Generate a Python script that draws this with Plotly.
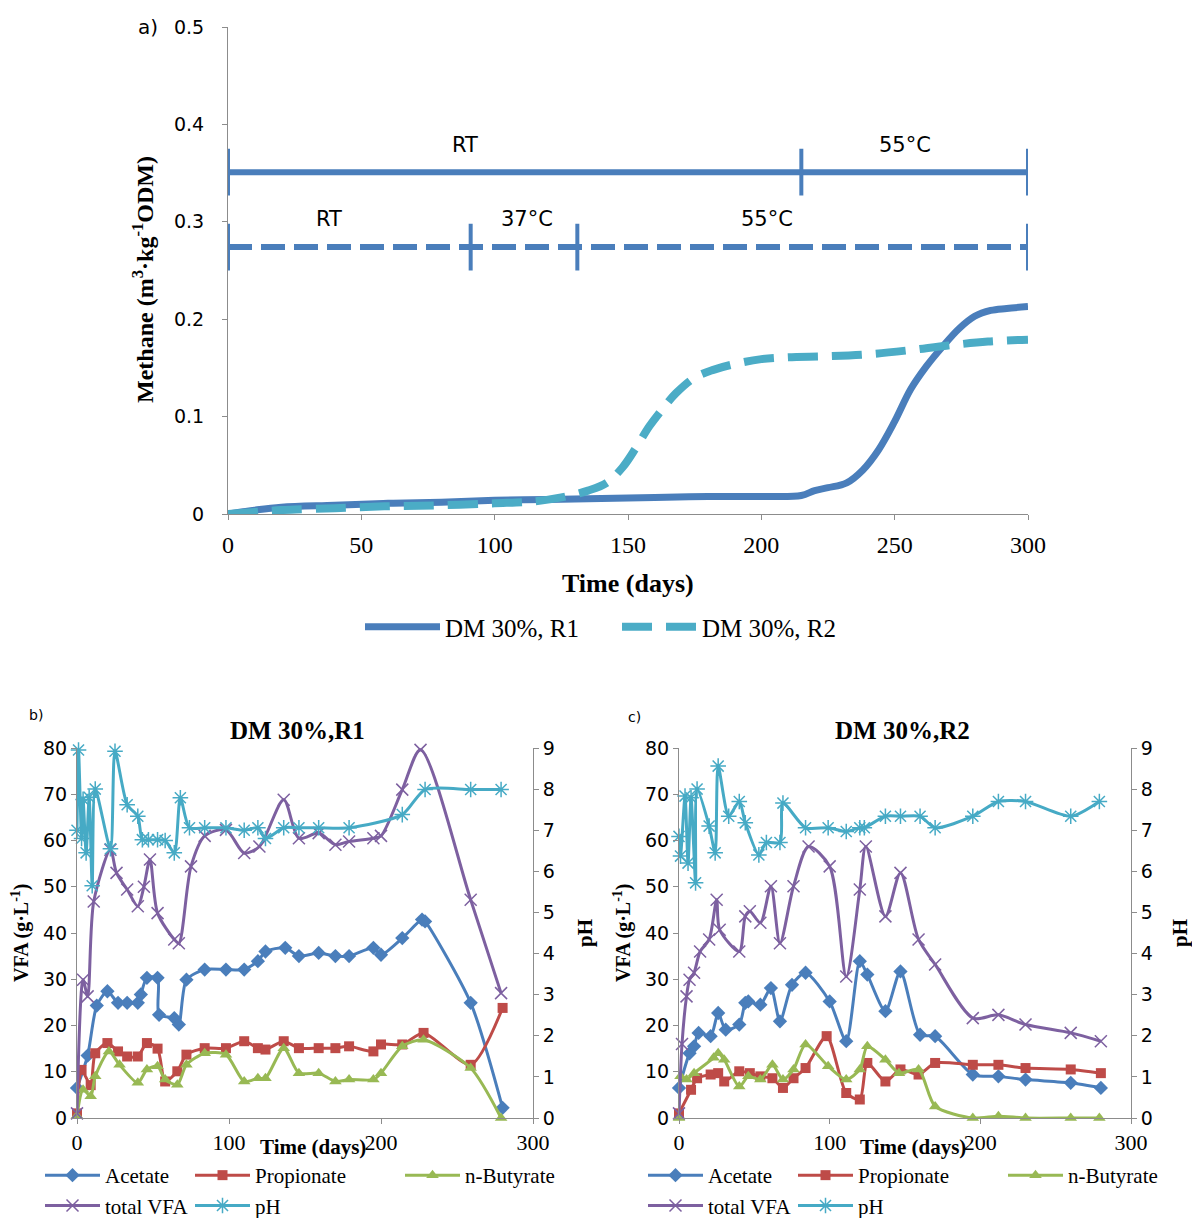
import plotly.graph_objects as go

W, H = 1192, 1218

# ---------------- (a) cumulative methane yield ----------------
r1_days = [0, 5, 10, 20, 40, 60, 80, 100, 120, 140, 160, 180, 200, 215, 220, 225, 232,
           238, 244, 250, 256, 262, 268, 274, 280, 286, 292, 300]
r1_methane = [0, 0.002, 0.004, 0.007, 0.009, 0.011, 0.012, 0.014, 0.015, 0.016, 0.017, 0.018,
              0.018, 0.019, 0.024, 0.027, 0.032, 0.045, 0.066, 0.095, 0.128, 0.152, 0.172,
              0.19, 0.203, 0.209, 0.211, 0.213]

r2_days = [0, 10, 20, 40, 60, 80, 100, 115, 125, 135, 142, 148, 153, 158, 163, 168, 175,
           182, 190, 200, 210, 225, 240, 255, 270, 285, 300]
r2_methane = [0, 0.002, 0.004, 0.006, 0.008, 0.009, 0.011, 0.013, 0.017, 0.024, 0.032, 0.048,
              0.068, 0.09, 0.108, 0.124, 0.14, 0.148, 0.154, 0.159, 0.161, 0.162, 0.164,
              0.168, 0.173, 0.177, 0.179]

# temperature regimes (phase boundaries in days)
r1_phase_days = [0, 215, 300]
r1_phase_labels = ["RT", "55°C"]
r2_phase_days = [0, 91, 131, 300]
r2_phase_labels = ["RT", "37°C", "55°C"]
r1_phase_level = 0.351
r2_phase_level = 0.274

# ---------------- (b) DM 30%, R1 ----------------
b_acetate_days = [0, 7, 13, 20, 27, 33, 40, 42, 46, 53, 54, 64, 67, 72, 84, 98, 110, 119, 124,
                  137, 146, 159, 170, 179, 195, 200, 214, 227, 229, 259, 280]
b_acetate = [6.5, 13.5, 24.3, 27.4, 24.9, 24.9, 24.9, 26.7, 30.3, 30.3, 22.3, 21.6, 20.2, 29.9,
             32.1, 32.1, 32.1, 33.9, 36.0, 36.8, 35.0, 35.7, 35.0, 35.0, 36.8, 35.3, 38.9,
             42.9, 42.5, 24.9, 2.2]

b_propionate_days = [0, 3, 9, 12, 20, 27, 33, 40, 46, 53, 58, 66, 72, 84, 98, 110, 119, 124,
                     136, 146, 159, 170, 179, 195, 200, 214, 228, 259, 280]
b_propionate = [1.0, 10.4, 7.1, 14.0, 16.2, 14.4, 13.3, 13.3, 16.2, 15.0, 7.9, 10.1, 13.7,
                15.1, 15.1, 16.6, 15.1, 14.8, 16.6, 15.1, 15.1, 15.1, 15.5, 14.4, 15.9, 15.9,
                18.4, 11.5, 23.8]

b_butyrate_days = [0, 4, 9, 12, 21, 28, 40, 46, 53, 58, 66, 72, 84, 98, 110, 119, 124, 136,
                   146, 159, 170, 179, 195, 200, 214, 228, 259, 279]
b_butyrate = [0.5, 6.1, 4.7, 9.0, 14.4, 11.5, 7.6, 10.5, 11.2, 8.3, 7.2, 11.5, 14.0, 13.7,
              7.9, 8.6, 8.6, 15.1, 9.7, 9.7, 7.9, 8.3, 8.3, 9.7, 15.5, 16.9, 10.8, 0.0]

b_total_days = [0, 4, 7, 11, 22, 26, 33, 40, 44, 48, 53, 64, 67, 75, 84, 98, 110, 120, 136,
                146, 159, 170, 179, 195, 200, 214, 226, 259, 279]
b_total = [1.0, 29.9, 26.3, 46.8, 58.0, 53.0, 49.4, 45.8, 50.0, 55.9, 44.3, 38.6, 37.8, 54.4,
           61.0, 62.3, 57.3, 58.7, 68.8, 60.5, 61.6, 59.1, 59.8, 60.5, 61.0, 71.0, 79.6, 47.2,
           27.0]

b_ph_days = [0, 1, 3, 4, 6, 8, 10, 12, 22, 25, 33, 40, 43, 47, 53, 58, 64, 68, 74, 84, 98,
             110, 119, 124, 136, 146, 159, 179, 214, 229, 259, 279]
b_ph = [7.0, 8.95, 6.8, 7.75, 6.45, 7.8, 5.65, 8.0, 6.55, 8.92, 7.62, 7.34, 6.77, 6.77, 6.77,
        6.75, 6.45, 7.79, 7.06, 7.06, 7.06, 7.0, 7.06, 6.8, 7.06, 7.06, 7.06, 7.06, 7.38,
        7.99, 7.99, 7.99]

# ---------------- (c) DM 30%, R2 ----------------
c_acetate_days = [0, 7, 10, 13, 21, 26, 31, 40, 44, 46, 54, 61, 67, 75, 84, 100, 111, 120,
                  125, 137, 147, 160, 170, 195, 212, 230, 260, 280]
c_acetate = [6.5, 14.0, 15.5, 18.4, 17.7, 22.7, 19.1, 20.2, 24.9, 25.2, 24.5, 28.1, 20.9,
             28.8, 31.4, 25.2, 16.6, 33.9, 31.0, 23.1, 31.7, 18.0, 17.7, 9.4, 9.0, 8.3, 7.6,
             6.5]

c_propionate_days = [0, 8, 12, 21, 26, 30, 40, 47, 54, 62, 69, 76, 84, 98, 111, 120, 125,
                     137, 147, 159, 170, 195, 212, 230, 260, 280]
c_propionate = [1.0, 6.1, 8.6, 9.4, 9.7, 7.9, 10.1, 9.7, 9.0, 8.6, 6.5, 8.6, 10.8, 17.7, 5.4,
                4.0, 11.9, 7.9, 10.5, 9.4, 11.9, 11.5, 11.5, 10.8, 10.5, 9.7]

c_butyrate_days = [0, 1, 5, 10, 23, 26, 30, 40, 46, 54, 62, 69, 76, 84, 99, 111, 120, 125,
                   137, 146, 159, 170, 195, 212, 230, 260, 279]
c_butyrate = [0.0, 9.0, 8.3, 9.7, 13.0, 14.0, 12.6, 6.8, 9.0, 8.3, 11.5, 8.3, 10.5, 15.9,
              11.2, 8.3, 10.5, 15.5, 12.6, 9.7, 10.5, 2.5, 0.0, 0.4, 0.0, 0.0, 0.0]

c_total_days = [0, 2, 5, 7, 10, 14, 20, 25, 27, 40, 44, 47, 54, 61, 67, 76, 86, 100, 111, 120,
                124, 137, 147, 159, 170, 195, 212, 230, 260, 280]
c_total = [1.0, 16.0, 26.3, 29.9, 31.4, 36.0, 38.6, 47.2, 40.7, 36.0, 43.6, 44.7, 42.2, 50.1,
           37.8, 50.1, 58.7, 54.4, 30.6, 49.4, 58.7, 43.6, 53.0, 38.6, 33.2, 21.6, 22.3, 20.2,
           18.4, 16.6]

c_ph_days = [0, 1, 4, 6, 8, 11, 12, 20, 24, 26, 33, 40, 44, 53, 58, 67, 69, 84, 99, 111, 120,
             123, 137, 147, 160, 170, 195, 212, 230, 260, 279]
c_ph = [6.85, 6.37, 7.83, 6.2, 7.79, 5.72, 8.0, 7.1, 6.45, 8.56, 7.34, 7.7, 7.18, 6.4, 6.7,
        6.7, 7.66, 7.06, 7.06, 6.97, 7.06, 7.06, 7.34, 7.34, 7.34, 7.06, 7.34, 7.7, 7.7, 7.34,
        7.7]

# ---------------- styling ----------------
SERIF = "Liberation Serif"
SANS = "DejaVu Sans"
AXIS_GREY = "#8c8c8c"
R1_BLUE = "#4a7ebb"
R2_CYAN = "#4bacc6"

C_ACET = "#4a7ebb"
C_PROP = "#be4b48"
C_BUTY = "#98b954"
C_TOT = "#7d60a0"
C_PH = "#46aac5"


def px(x):
    return x / W


def py(y):
    return 1 - y / H


fig = go.Figure()

# cumulative methane curves
fig.add_trace(go.Scatter(
    x=r1_days, y=r1_methane, name="DM 30%, R1", mode="lines",
    line=dict(color=R1_BLUE, width=7, shape="spline", smoothing=1.0),
    xaxis="x", yaxis="y", legend="legend"))
fig.add_trace(go.Scatter(
    x=r2_days, y=r2_methane, name="DM 30%, R2", mode="lines",
    line=dict(color=R2_CYAN, width=8, dash="30px,14px", shape="spline", smoothing=1.0),
    xaxis="x", yaxis="y", legend="legend8"))


def phase_bar(days, level, dash):
    # horizontal bar spanning the whole run
    fig.add_trace(go.Scatter(
        x=[days[0], days[-1]], y=[level, level], mode="lines",
        line=dict(color=R1_BLUE, width=6, dash=dash),
        showlegend=False, hoverinfo="skip", xaxis="x", yaxis="y"))
    # vertical markers at every regime change
    tx, ty = [], []
    for d in days:
        tx += [d, d, None]
        ty += [level - 0.024, level + 0.024, None]
    fig.add_trace(go.Scatter(
        x=tx, y=ty, mode="lines", line=dict(color=R1_BLUE, width=4),
        showlegend=False, hoverinfo="skip", xaxis="x", yaxis="y"))


phase_bar(r1_phase_days, r1_phase_level, "solid")
phase_bar(r2_phase_days, r2_phase_level, "24px,9px")

annotations = []
r1_label_x = [89, 254]
r2_label_x = [38, 112, 202]
for lab, lx in zip(r1_phase_labels, r1_label_x):
    annotations.append(dict(x=lx, y=0.379, xref="x", yref="y", text=lab, showarrow=False,
                            font=dict(family=SANS, size=21, color="black")))
for lab, lx in zip(r2_phase_labels, r2_label_x):
    annotations.append(dict(x=lx, y=0.303, xref="x", yref="y", text=lab, showarrow=False,
                            font=dict(family=SANS, size=21, color="black")))

# VFA / pH panels
panels = [
    dict(xa="x2", ya="y2", yph="y3", legs=("legend2", "legend3", "legend4"),
         acet=(b_acetate_days, b_acetate), prop=(b_propionate_days, b_propionate),
         buty=(b_butyrate_days, b_butyrate), tot=(b_total_days, b_total),
         ph=(b_ph_days, b_ph)),
    dict(xa="x3", ya="y4", yph="y5", legs=("legend5", "legend6", "legend7"),
         acet=(c_acetate_days, c_acetate), prop=(c_propionate_days, c_propionate),
         buty=(c_butyrate_days, c_butyrate), tot=(c_total_days, c_total),
         ph=(c_ph_days, c_ph)),
]

for p in panels:
    l1, l2, l3 = p["legs"]
    common = dict(mode="lines+markers", cliponaxis=False, xaxis=p["xa"])
    fig.add_trace(go.Scatter(
        x=p["acet"][0], y=p["acet"][1], name="Acetate", yaxis=p["ya"], legend=l1,
        line=dict(color=C_ACET, width=3, shape="spline", smoothing=0.7),
        marker=dict(symbol="diamond", size=11, color=C_ACET), **common))
    fig.add_trace(go.Scatter(
        x=p["prop"][0], y=p["prop"][1], name="Propionate", yaxis=p["ya"], legend=l2,
        line=dict(color=C_PROP, width=3, shape="spline", smoothing=0.7),
        marker=dict(symbol="square", size=10, color=C_PROP), **common))
    fig.add_trace(go.Scatter(
        x=p["buty"][0], y=p["buty"][1], name="n-Butyrate", yaxis=p["ya"], legend=l3,
        line=dict(color=C_BUTY, width=3, shape="spline", smoothing=0.7),
        marker=dict(symbol="triangle-up", size=11, color=C_BUTY), **common))
    fig.add_trace(go.Scatter(
        x=p["tot"][0], y=p["tot"][1], name="total VFA", yaxis=p["ya"], legend=l1,
        line=dict(color=C_TOT, width=3, shape="spline", smoothing=0.8),
        marker=dict(symbol="x-thin-open", size=12, color=C_TOT, line=dict(width=1.5, color=C_TOT)),
        **common))
    fig.add_trace(go.Scatter(
        x=p["ph"][0], y=p["ph"][1], name="pH", yaxis=p["yph"], legend=l2,
        line=dict(color=C_PH, width=3, shape="spline", smoothing=0.7),
        marker=dict(symbol="asterisk-open", size=13, color=C_PH, line=dict(width=1.5, color=C_PH)),
        **common))

# ---------------- axes ----------------
base_axis = dict(showgrid=False, zeroline=False, showline=True, linecolor=AXIS_GREY,
                 linewidth=1, ticks="outside", ticklen=5, tickcolor=AXIS_GREY,
                 automargin=False)

top_dom_x = [px(228), px(1028)]
top_dom_y = [py(514), py(27)]
b_dom_x = [px(77), px(533)]
c_dom_x = [px(679), px(1131)]
bot_dom_y = [py(1118), py(748)]

layout_axes = dict(
    xaxis=dict(base_axis, domain=top_dom_x, anchor="y", range=[0, 300], tick0=0, dtick=50,
               tickfont=dict(family=SERIF, size=24, color="black"), ticklabelstandoff=4),
    yaxis=dict(base_axis, domain=top_dom_y, anchor="x", range=[0, 0.5], tick0=0, dtick=0.1,
               tickfont=dict(family=SANS, size=19, color="black"), ticklabelstandoff=14),
    xaxis2=dict(base_axis, domain=b_dom_x, anchor="y2", range=[0, 300], tick0=0, dtick=100,
                tickfont=dict(family=SERIF, size=22, color="black")),
    yaxis2=dict(base_axis, domain=bot_dom_y, anchor="x2", range=[0, 80], tick0=0, dtick=10,
                tickfont=dict(family=SANS, size=19, color="black")),
    yaxis3=dict(base_axis, domain=bot_dom_y, anchor="x2", overlaying="y2", side="right",
                range=[0, 9], tick0=0, dtick=1,
                tickfont=dict(family=SANS, size=19, color="black")),
    xaxis3=dict(base_axis, domain=c_dom_x, anchor="y4", range=[0, 300], tick0=0, dtick=100,
                tickfont=dict(family=SERIF, size=22, color="black")),
    yaxis4=dict(base_axis, domain=bot_dom_y, anchor="x3", range=[0, 80], tick0=0, dtick=10,
                tickfont=dict(family=SANS, size=19, color="black")),
    yaxis5=dict(base_axis, domain=bot_dom_y, anchor="x3", overlaying="y4", side="right",
                range=[0, 9], tick0=0, dtick=1,
                tickfont=dict(family=SANS, size=19, color="black")),
)


def text_ann(x, y, text, size, family=SERIF, angle=0, xanchor="center"):
    return dict(x=px(x), y=py(y), xref="paper", yref="paper", text=text, showarrow=False,
                textangle=angle, xanchor=xanchor, yanchor="middle",
                font=dict(family=family, size=size, color="black"))


annotations += [
    text_ann(148, 27, "a)", 20, SANS),
    text_ann(143, 280, "<b>Methane (m<sup>3</sup>·kg<sup>-1</sup>ODM)</b>", 24, angle=-90),
    text_ann(628, 583, "<b>Time (days)</b>", 26),
    # panel b
    text_ann(36, 715, "b)", 14, SANS),
    text_ann(297, 730, "<b>DM 30%,R1</b>", 25),
    text_ann(20, 933, "<b>VFA (g·L<sup>-1</sup>)</b>", 20, angle=-90),
    text_ann(585, 933, "<b>pH</b>", 21, angle=-90),
    text_ann(313, 1147, "<b>Time (days)</b>", 21),
    # panel c
    text_ann(634, 717, "c)", 14, SANS),
    text_ann(902, 730, "<b>DM 30%,R2</b>", 25),
    text_ann(622, 933, "<b>VFA (g·L<sup>-1</sup>)</b>", 20, angle=-90),
    text_ann(1180, 933, "<b>pH</b>", 21, angle=-90),
    text_ann(913, 1147, "<b>Time (days)</b>", 21),
]

leg_font = dict(family=SERIF, size=21, color="black")


def col_legend(x, y):
    return dict(x=px(x), y=py(y), xanchor="left", yanchor="top", orientation="v",
                itemwidth=55, font=leg_font, bgcolor="rgba(0,0,0,0)", tracegroupgap=0)


def top_legend(x):
    return dict(x=px(x), y=py(627), xanchor="left", yanchor="middle", orientation="h",
                itemwidth=75, font=dict(family=SERIF, size=25, color="black"),
                bgcolor="rgba(0,0,0,0)")


fig.update_layout(
    width=W, height=H, autosize=False,
    margin=dict(l=0, r=0, t=0, b=0, autoexpand=False),
    paper_bgcolor="white", plot_bgcolor="white",
    annotations=annotations,
    legend=top_legend(360),
    legend8=top_legend(617),
    legend2=col_legend(40, 1155),
    legend3=col_legend(190, 1155),
    legend4=col_legend(400, 1155),
    legend5=col_legend(643, 1155),
    legend6=col_legend(793, 1155),
    legend7=col_legend(1003, 1155),
    **layout_axes,
)

fig.write_html("out.html")
